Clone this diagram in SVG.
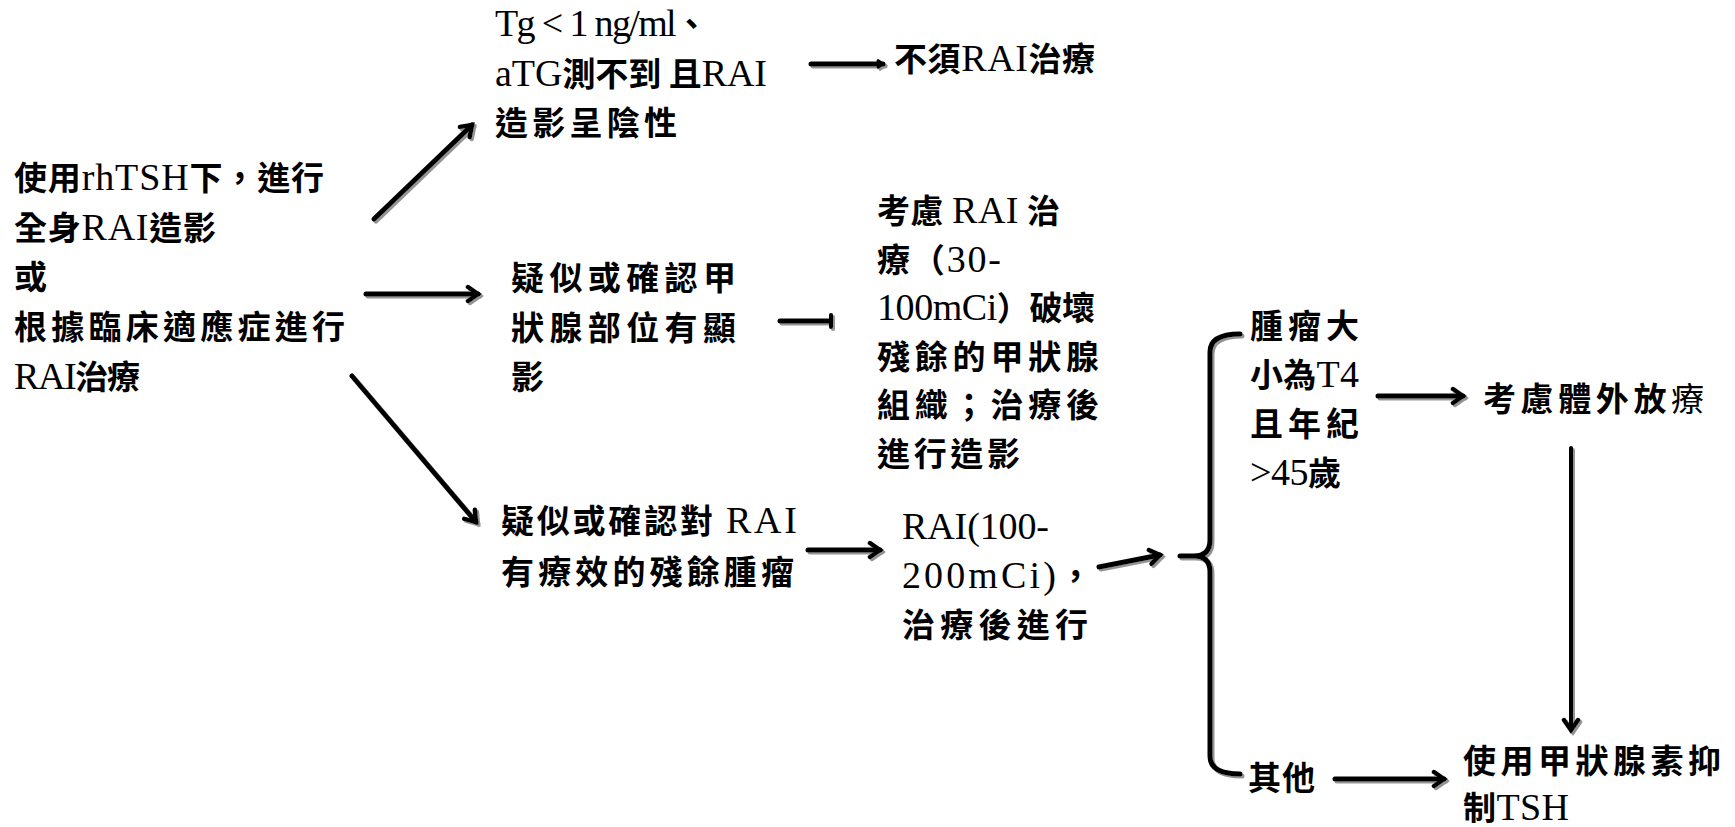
<svg xmlns="http://www.w3.org/2000/svg" width="1735" height="827" viewBox="0 0 1735 827">
<defs>
<style>
text{font-family:"Noto Sans CJK TC","Noto Sans CJK SC",sans-serif;font-size:33px;font-weight:700;fill:#000}
.e{font-family:"Liberation Serif","Noto Sans CJK TC",serif;font-weight:400;font-size:38px}
.lt{font-weight:400}
.c{fill:none;stroke:#000;stroke-width:5;stroke-linecap:round}
.cs{stroke-width:4}
</style>
<marker id="ah" viewBox="0 0 20 20" refX="15" refY="10" markerWidth="20" markerHeight="20" markerUnits="userSpaceOnUse" orient="auto">
<path d="M5,3 L15,10 L5,17" fill="none" stroke="#000" stroke-width="4.5" stroke-linecap="round" stroke-linejoin="miter"/>
</marker>
<marker id="ahs" viewBox="0 0 12 12" refX="9" refY="6" markerWidth="12" markerHeight="12" markerUnits="userSpaceOnUse" orient="auto">
<path d="M3,2 L9,6 L3,10" fill="none" stroke="#000" stroke-width="3"/>
</marker>
<filter id="sh" x="-10%" y="-10%" width="130%" height="130%">
<feDropShadow dx="2" dy="2" stdDeviation="0.6" flood-color="#888" flood-opacity="0.9"/>
</filter>
</defs>
<rect width="1735" height="827" fill="#fff"/>

<g id="connectors" filter="url(#sh)">
<line class="c" x1="374" y1="219" x2="472" y2="125" marker-end="url(#ah)"/>
<line class="c" x1="811" y1="64" x2="883" y2="64" marker-end="url(#ahs)"/>
<line class="c" x1="366" y1="294" x2="478" y2="294" marker-end="url(#ah)"/>
<line class="c" x1="780" y1="321" x2="830" y2="321"/>
<line class="c cs" x1="831" y1="315" x2="831" y2="327"/>
<line class="c" x1="352" y1="376" x2="476" y2="522" marker-end="url(#ah)"/>
<line class="c" x1="808" y1="550" x2="880" y2="550" marker-end="url(#ah)"/>
<line class="c" x1="1099" y1="567" x2="1160" y2="555" marker-end="url(#ah)"/>
<path class="c" d="M1240,334 Q1210,334 1210,352 L1210,540 Q1210,556 1194,556 L1180,556 M1194,556 Q1210,556 1210,572 L1210,756 Q1210,774 1240,774"/>
<line class="c" x1="1378" y1="396" x2="1463" y2="396" marker-end="url(#ah)"/>
<line class="c cs" x1="1571" y1="448" x2="1571" y2="730" marker-end="url(#ah)"/>
<line class="c" x1="1335" y1="779" x2="1444" y2="779" marker-end="url(#ah)"/>
</g>

<g id="n-start">
<text x="14" y="190" textLength="310">使用<tspan class="e">rhTSH</tspan>下，進行</text>
<text x="14" y="240" textLength="202">全身<tspan class="e">RAI</tspan>造影</text>
<text x="14" y="289">或</text>
<text x="14" y="339" textLength="331">根據臨床適應症進行</text>
<text x="14" y="389" textLength="126"><tspan class="e">RAI</tspan>治療</text>
</g>

<g id="n-neg">
<text x="495" y="36" textLength="213"><tspan class="e">Tg &lt; 1 ng/ml</tspan>、</text>
<text x="495" y="86" textLength="272"><tspan class="e">aTG</tspan>測不到 且<tspan class="e">RAI</tspan></text>
<text x="495" y="135" textLength="182">造影呈陰性</text>
</g>

<g id="n-norai">
<text x="894" y="71" textLength="201">不須<tspan class="e">RAI</tspan>治療</text>
</g>

<g id="n-thyroid">
<text x="511" y="290" textLength="225">疑似或確認甲</text>
<text x="511" y="340" textLength="225">狀腺部位有顯</text>
<text x="511" y="389">影</text>
</g>

<g id="n-rai30">
<text x="877" y="223" textLength="183">考慮 <tspan class="e">RAI</tspan> 治</text>
<text x="877" y="272" textLength="124">療（<tspan class="e">30-</tspan></text>
<text x="877" y="320" textLength="218"><tspan class="e">100mCi</tspan>）破壞</text>
<text x="877" y="369" textLength="222">殘餘的甲狀腺</text>
<text x="877" y="417" textLength="222">組織；治療後</text>
<text x="877" y="466" textLength="143">進行造影</text>
</g>

<g id="n-tumor">
<text x="501" y="533" textLength="296">疑似或確認對 <tspan class="e">RAI</tspan></text>
<text x="501" y="584" textLength="293">有療效的殘餘腫瘤</text>
</g>

<g id="n-rai100">
<text x="902" y="539" textLength="147"><tspan class="e">RAI(100-</tspan></text>
<text x="902" y="588" textLength="190"><tspan class="e">200mCi)</tspan>，</text>
<text x="902" y="637" textLength="186">治療後進行</text>
</g>

<g id="n-t4">
<text x="1250" y="338" textLength="109">腫瘤大</text>
<text x="1250" y="387" textLength="109">小為<tspan class="e">T4</tspan></text>
<text x="1250" y="436" textLength="109">且年紀</text>
<text x="1250" y="485" textLength="91"><tspan class="e">&gt;45</tspan>歲</text>
</g>

<g id="n-ext">
<text x="1483" y="411" textLength="221">考慮體外放<tspan class="lt">療</tspan></text>
</g>

<g id="n-other">
<text x="1248" y="790" textLength="67">其他</text>
</g>

<g id="n-tsh">
<text x="1463" y="773" textLength="258">使用甲狀腺素抑</text>
<text x="1463" y="820" textLength="106">制<tspan class="e">TSH</tspan></text>
</g>
</svg>
